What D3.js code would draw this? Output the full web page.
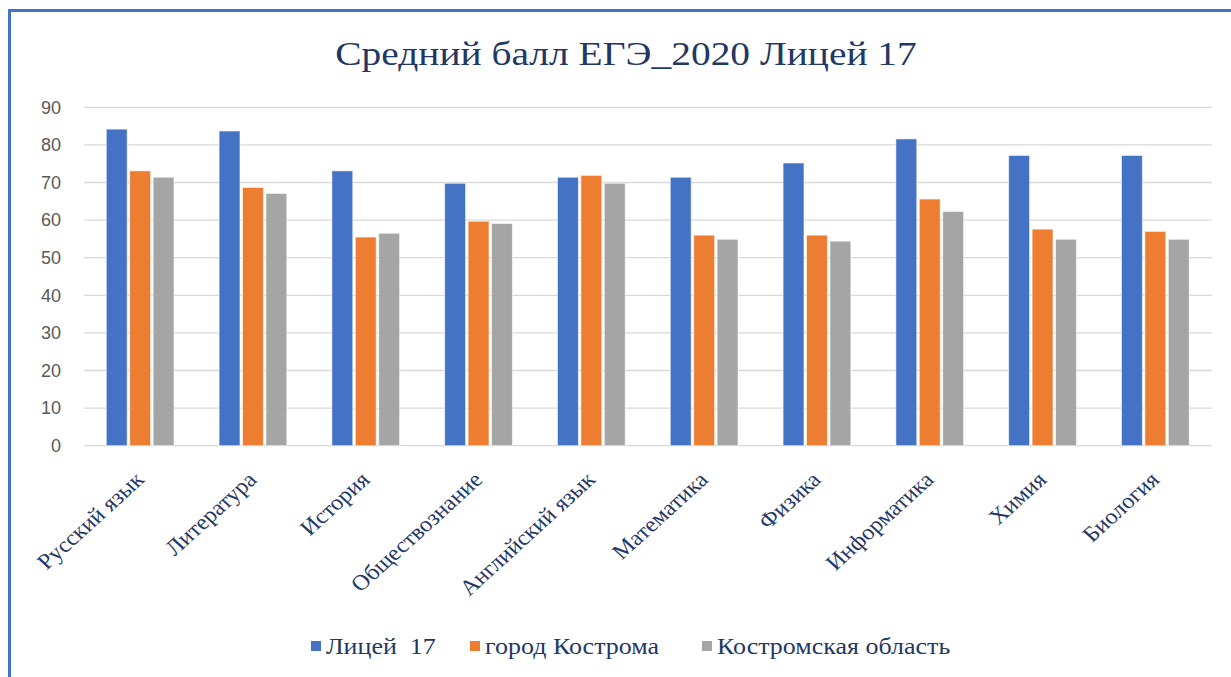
<!DOCTYPE html>
<meta charset="utf-8">
<script src="https://d3js.org/d3.v7.min.js"></script>
<style>
  body { margin: 0; background: #fff; }
</style>
<div id="chart"></div>
<script>
// data
var subjects = ["Русский язык", "Литература", "История", "Обществознание", "Английский  язык",
                "Математика", "Физика", "Информатика", "Химия", "Биология"];
var seriesNames = ["Лицей  17", "город Кострома", "Костромская область"];
var litsei = [84.2, 83.7, 73.1, 69.8, 71.4, 71.4, 75.2, 81.6, 77.2, 77.2];
var gorod = [73.1, 68.7, 55.5, 59.7, 71.9, 56.0, 56.0, 65.6, 57.6, 57.0];
var oblast = [71.4, 67.1, 56.5, 59.1, 69.8, 54.9, 54.4, 62.3, 54.9, 54.9];
var yTicks = [0, 10, 20, 30, 40, 50, 60, 70, 80, 90];
var colors = ["#4472c4", "#ed7d31", "#a5a5a5"];

var W = 1231, H = 677;
var svg = d3.select("#chart").append("svg").attr("width", W).attr("height", H);

// outer frame
svg.append("rect").attr("x", 9.5).attr("y", 10.5).attr("width", W).attr("height", H)
  .attr("fill", "white").attr("stroke", "#4472c4").attr("stroke-width", 3);

// title (the picture is a little stretched sideways)
svg.append("text").attr("transform", "translate(626,65) scale(1.16,1)")
  .attr("text-anchor", "middle")
  .style("font-family", "'Liberation Serif', serif").style("font-size", "34px")
  .attr("fill", "#1f3864").text("Средний балл ЕГЭ_2020 Лицей 17");

var plotLeft = 84, plotRight = 1212, plotTop = 107.3, plotBottom = 445.7;

var x = d3.scaleBand().domain(subjects).range([plotLeft, plotRight]).paddingInner(0.377).paddingOuter(0.1885);
var xs = d3.scaleBand().domain(d3.range(3)).range([0, x.bandwidth()]);
var y = d3.scaleLinear().domain([0, 90]).range([plotBottom, plotTop]);

// grid
svg.append("g").selectAll("line").data(yTicks).enter().append("line")
  .attr("x1", plotLeft).attr("x2", plotRight)
  .attr("y1", function(d) { return y(d); }).attr("y2", function(d) { return y(d); })
  .attr("stroke", "#d9d9d9").attr("stroke-width", 1.3);

// y axis labels
var yAxis = svg.append("g").attr("transform", "translate(61,0)")
  .call(d3.axisLeft(y).tickValues(yTicks).tickSize(0).tickPadding(0));
yAxis.select(".domain").remove();
yAxis.selectAll("text").style("font-family", "'Liberation Sans', Arial, sans-serif")
  .style("font-size", "18px").attr("fill", "#595959");

// bars
var allSeries = [litsei, gorod, oblast];
allSeries.forEach(function(vals, si) {
  svg.append("g").selectAll("rect").data(vals).enter().append("rect")
    .attr("x", function(d, i) { return x(subjects[i]) + xs(si) + 1; })
    .attr("width", xs.bandwidth() - 2.5)
    .attr("y", function(d) { return y(d); })
    .attr("height", function(d) { return plotBottom - y(d); })
    .attr("fill", colors[si])
    .attr("stroke", "#fff").attr("stroke-opacity", 0.6).attr("stroke-width", 1);
});

// x labels
svg.append("g").selectAll("text").data(subjects).enter().append("text")
  .attr("transform", function(d) {
    return "translate(" + (x(d) + x.bandwidth() / 2 + 5) + ",481) scale(1.1,1) rotate(-45)";
  })
  .attr("text-anchor", "end")
  .style("font-family", "'Liberation Serif', serif").style("font-size", "22px")
  .attr("fill", "#1f3864").text(function(d) { return d; });

// legend
var legendX = [311, 470, 702];
var lg = svg.append("g").selectAll("g").data(seriesNames).enter().append("g")
  .attr("transform", function(d, i) { return "translate(" + legendX[i] + ",641)"; });
lg.append("rect").attr("width", 10).attr("height", 10).attr("fill", function(d, i) { return colors[i]; });
lg.append("text").attr("transform", "translate(15,13) scale(1.13,1)")
  .attr("xml:space", "preserve")
  .style("font-family", "'Liberation Serif', serif").style("font-size", "23px")
  .attr("fill", "#1f3864").text(function(d) { return d; });
</script>
